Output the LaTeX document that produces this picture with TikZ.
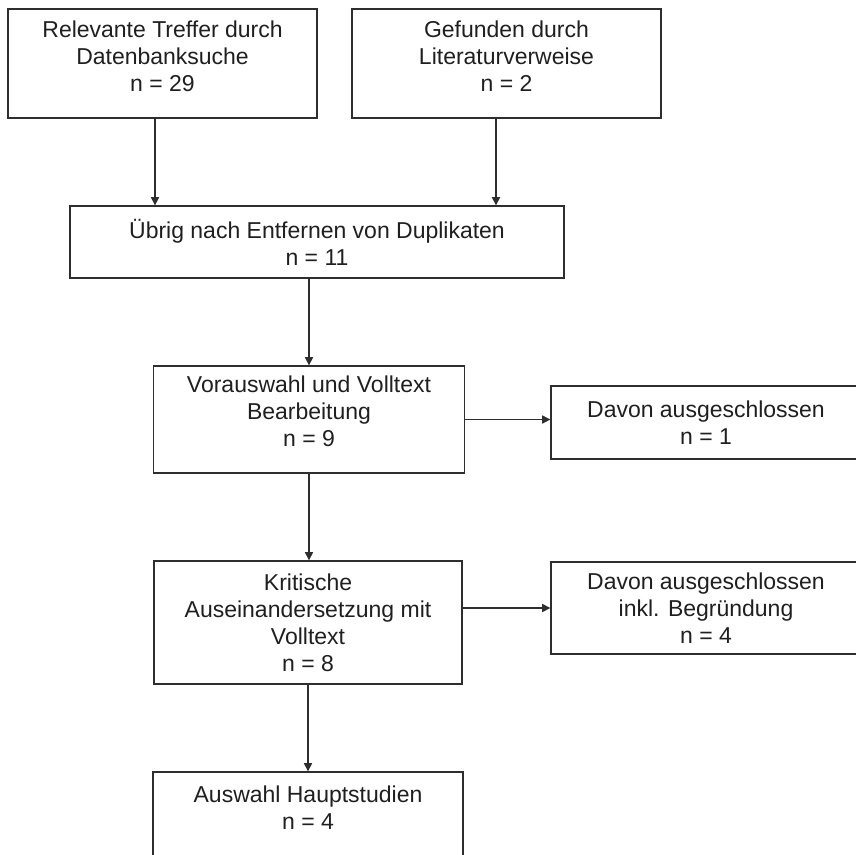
\documentclass[tikz,border=0pt]{standalone}
\usepackage{fontspec}
\setmainfont{Liberation Sans}
\usetikzlibrary{arrows.meta, calc}
\definecolor{boxline}{HTML}{2E2E2E}
\definecolor{boxtext}{HTML}{1F1F1F}

\begin{document}
\begin{tikzpicture}[>={Triangle[length=0.27cm, width=0.27cm]}, line width=1.2pt,
  box/.style={draw=boxline, line width=1.3pt, align=center, inner sep=2pt, text=boxtext,
    font=\fontsize{21.8}{25.6}\selectfont}]

% Page
\useasboundingbox (0,0) rectangle (28.533,28.467);

% Sources
\node[box, minimum width=10.3cm, minimum height=3.633cm] (dbs) at (5.417,26.35)
  {Relevante Treffer durch\\Datenbanksuche\\n = 29\\[-0.4cm]};
\node[box, minimum width=10.3cm, minimum height=3.633cm] (lit) at (16.883,26.35)
  {Gefunden durch\\Literaturverweise\\n = 2\\[-0.4cm]};

% After removing duplicates
\node[box, minimum width=16.467cm, minimum height=2.4cm] (dup) at (10.567,20.4)
  {Übrig nach Entfernen von Duplikaten\\n = 11};

% Screening
\node[box, minimum width=10.367cm, minimum height=3.567cm] (pre) at (10.3,14.483)
  {Vorauswahl und Volltext\\Bearbeitung\\n = 9\\[-0.33cm]};
\node[box, minimum width=10.333cm, minimum height=2.433cm] (exone) at (23.533,14.383)
  {Davon ausgeschlossen\\n = 1};

% Full text review
\node[box, minimum width=10.267cm, minimum height=4.1cm] (crit) at (10.267,7.717)
  {Kritische\\Auseinandersetzung mit\\Volltext\\n = 8};
\node[box, minimum width=10.333cm, minimum height=3.067cm] (extwo) at (23.533,8.2)
  {Davon ausgeschlossen\\inkl. Begründung\\n = 4};

% Result
\node[box, minimum width=10.333cm, minimum height=3cm] (main) at (10.267,1.233)
  {Auswahl Hauptstudien\\n = 4\\[-0.27cm]};

% Arrows
\draw[->, boxline] ([xshift=-0.25cm]dbs.south) -- ([xshift=-0.25cm]dbs.south |- dup.north);
\draw[->, boxline] ([xshift=-0.35cm]lit.south) -- ([xshift=-0.35cm]lit.south |- dup.north);
\draw[->, boxline] (dup.south -| pre.north) -- (pre.north);
\draw[->, boxline] (pre.east) -- (pre.east -| exone.west);
\draw[->, boxline] (pre.south) -- (pre.south |- crit.north);
\draw[->, boxline] (crit.east |- extwo.west) -- (extwo.west);
\draw[->, boxline] (crit.south) -- (crit.south |- main.north);

\end{tikzpicture}
\end{document}
